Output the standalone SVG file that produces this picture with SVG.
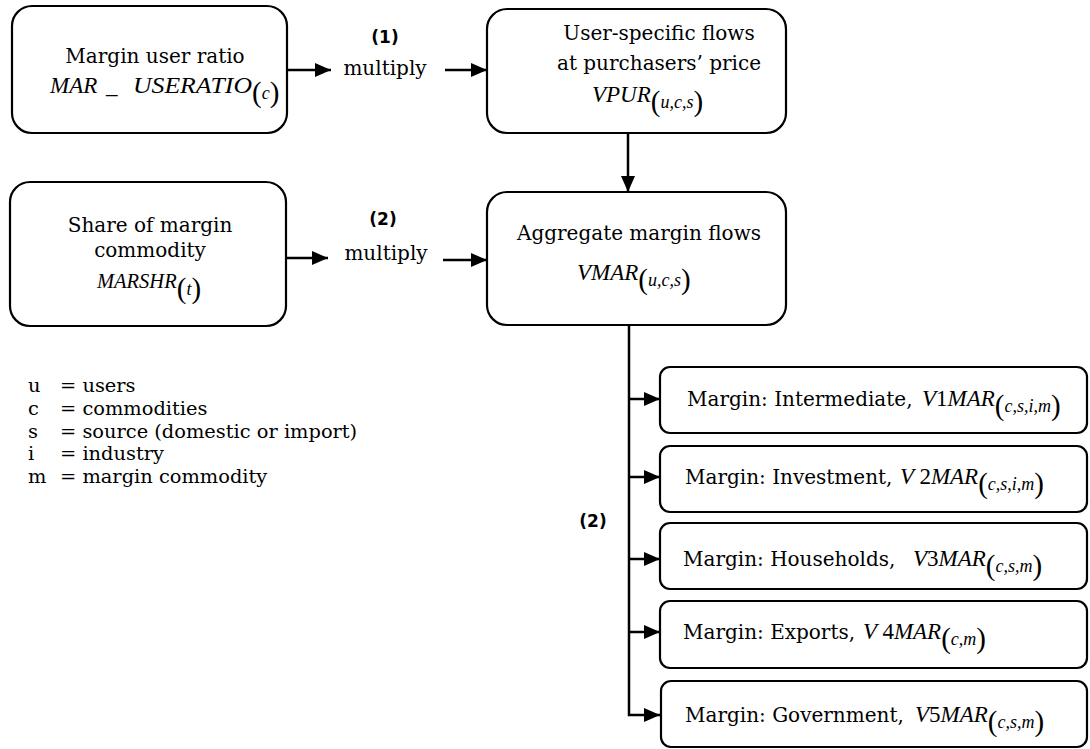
<svg xmlns="http://www.w3.org/2000/svg" width="1090" height="749" viewBox="0 0 1090 749">
  <defs>
    <style>
      .box { fill: #fff; stroke: #000; stroke-width: 2.2; }
      .ln { fill: none; stroke: #000; stroke-width: 2.5; }
      .t { font-family: "DejaVu Serif", "Liberation Serif", serif; font-size: 20px; fill: #000; }
      .lg { font-family: "DejaVu Serif", "Liberation Serif", serif; font-size: 19.4px; fill: #000; }
      .b { font-family: "DejaVu Sans", "Liberation Sans", sans-serif; font-size: 17px; font-weight: bold; fill: #000; }
      .m { font-family: "Liberation Serif", "Times New Roman", serif; font-size: 23px; font-style: italic; fill: #000; }
      .p { font-family: "Liberation Serif", "Times New Roman", serif; font-size: 29px; font-style: normal; }
      .s { font-family: "Liberation Serif", "Times New Roman", serif; font-size: 18px; font-style: italic; }
      .r { font-style: normal; }
    </style>
    <marker id="ah" viewBox="0 0 16 14" refX="16" refY="7" markerWidth="16" markerHeight="14" markerUnits="userSpaceOnUse" orient="auto">
      <path d="M0,0 L16,7 L0,14 z" fill="#000"/>
    </marker>
  </defs>

  <!-- connectors -->
  <g id="connectors">
    <path class="ln" d="M288,70 H331" marker-end="url(#ah)"/>
    <path class="ln" d="M445,70 H487" marker-end="url(#ah)"/>
    <path class="ln" d="M287,258 H328" marker-end="url(#ah)"/>
    <path class="ln" d="M443,260 H487" marker-end="url(#ah)"/>
    <path class="ln" d="M628,133 V192" marker-end="url(#ah)"/>
    <path class="ln" d="M629,325 V715 H660" marker-end="url(#ah)"/>
    <path class="ln" d="M629,399 H660" marker-end="url(#ah)"/>
    <path class="ln" d="M629,477 H660" marker-end="url(#ah)"/>
    <path class="ln" d="M629,559 H660" marker-end="url(#ah)"/>
    <path class="ln" d="M629,632 H660" marker-end="url(#ah)"/>
  </g>

  <!-- operation labels -->
  <g id="op1">
    <text class="b" x="385" y="43" text-anchor="middle">(1)</text>
    <text class="t" x="385" y="75" text-anchor="middle">multiply</text>
  </g>
  <g id="op2">
    <text class="b" x="383" y="225" text-anchor="middle">(2)</text>
    <text class="t" x="386" y="260" text-anchor="middle">multiply</text>
  </g>
  <g id="op3">
    <text class="b" x="593" y="527" text-anchor="middle">(2)</text>
  </g>

  <!-- input: margin user ratio -->
  <g id="n-userratio">
    <rect class="box" x="12" y="6" width="275" height="127" rx="20"/>
    <text class="t" x="155" y="63" text-anchor="middle">Margin user ratio</text>
    <text class="m" x="50" y="93">MAR<tspan x="106">_</tspan><tspan x="133" textLength="119" lengthAdjust="spacingAndGlyphs">USERATIO</tspan><tspan class="p" dy="9">(</tspan><tspan class="s" dy="-3">c</tspan><tspan class="p" dy="3">)</tspan></text>
  </g>

  <!-- purchasers' price flows -->
  <g id="n-vpur">
    <rect class="box" x="487" y="9" width="299" height="124" rx="20"/>
    <text class="t" x="659" y="40" text-anchor="middle">User-specific flows</text>
    <text class="t" x="659" y="70" text-anchor="middle">at purchasers’ price</text>
    <text class="m" x="592" y="102">VPUR<tspan class="p" dy="9">(</tspan><tspan class="s" dy="-3">u,c,s</tspan><tspan class="p" dy="3">)</tspan></text>
  </g>

  <!-- input: margin commodity share -->
  <g id="n-marshr">
    <rect class="box" x="10" y="182" width="276" height="144" rx="20"/>
    <text class="t" x="150" y="232" text-anchor="middle">Share of margin</text>
    <text class="t" x="150" y="257" text-anchor="middle">commodity</text>
    <text class="m" x="97" y="288" style="font-size:20.5px">MARSHR<tspan class="p" dy="10">(</tspan><tspan class="s" dy="-3">t</tspan><tspan class="p" dy="3">)</tspan></text>
  </g>

  <!-- aggregate margins -->
  <g id="n-vmar">
    <rect class="box" x="487" y="192" width="299" height="133" rx="20"/>
    <text class="t" x="639" y="240" text-anchor="middle">Aggregate margin flows</text>
    <text class="m" x="577" y="280">VMAR<tspan class="p" dy="9">(</tspan><tspan class="s" dy="-3">u,c,s</tspan><tspan class="p" dy="3">)</tspan></text>
  </g>

  <!-- index legend -->
  <g id="legend">
    <text class="lg" x="28" y="392">u</text><text class="lg" x="60" y="392">= users</text>
    <text class="lg" x="28" y="415">c</text><text class="lg" x="60" y="415">= commodities</text>
    <text class="lg" x="28" y="438">s</text><text class="lg" x="60" y="438">= source (domestic or import)</text>
    <text class="lg" x="28" y="460">i</text><text class="lg" x="60" y="460">= industry</text>
    <text class="lg" x="28" y="483">m</text><text class="lg" x="60" y="483">= margin commodity</text>
  </g>

  <!-- margins by user -->
  <g id="n-v1mar">
    <rect class="box" x="660" y="367" width="427" height="66" rx="10"/>
    <text class="t" x="687" y="406">Margin: Intermediate,</text>
    <text class="m" x="922" y="406">V<tspan class="r">1</tspan>MAR<tspan class="p" dy="9">(</tspan><tspan class="s" dy="-3">c,s,i,m</tspan><tspan class="p" dy="3">)</tspan></text>
  </g>
  <g id="n-v2mar">
    <rect class="box" x="660" y="446" width="427" height="66" rx="10"/>
    <text class="t" x="685" y="484">Margin: Investment,</text>
    <text class="m" x="900" y="484">V <tspan class="r">2</tspan>MAR<tspan class="p" dy="9">(</tspan><tspan class="s" dy="-3">c,s,i,m</tspan><tspan class="p" dy="3">)</tspan></text>
  </g>
  <g id="n-v3mar">
    <rect class="box" x="660" y="523" width="427" height="66" rx="10"/>
    <text class="t" x="683" y="566">Margin: Households,</text>
    <text class="m" x="913" y="566">V<tspan class="r">3</tspan>MAR<tspan class="p" dy="9">(</tspan><tspan class="s" dy="-3">c,s,m</tspan><tspan class="p" dy="3">)</tspan></text>
  </g>
  <g id="n-v4mar">
    <rect class="box" x="660" y="601" width="427" height="67" rx="10"/>
    <text class="t" x="683" y="639">Margin: Exports,</text>
    <text class="m" x="863" y="639">V <tspan class="r">4</tspan>MAR<tspan class="p" dy="9">(</tspan><tspan class="s" dy="-3">c,m</tspan><tspan class="p" dy="3">)</tspan></text>
  </g>
  <g id="n-v5mar">
    <rect class="box" x="661" y="681" width="426" height="66" rx="10"/>
    <text class="t" x="685" y="722">Margin: Government,</text>
    <text class="m" x="915" y="722">V<tspan class="r">5</tspan>MAR<tspan class="p" dy="9">(</tspan><tspan class="s" dy="-3">c,s,m</tspan><tspan class="p" dy="3">)</tspan></text>
  </g>
</svg>
